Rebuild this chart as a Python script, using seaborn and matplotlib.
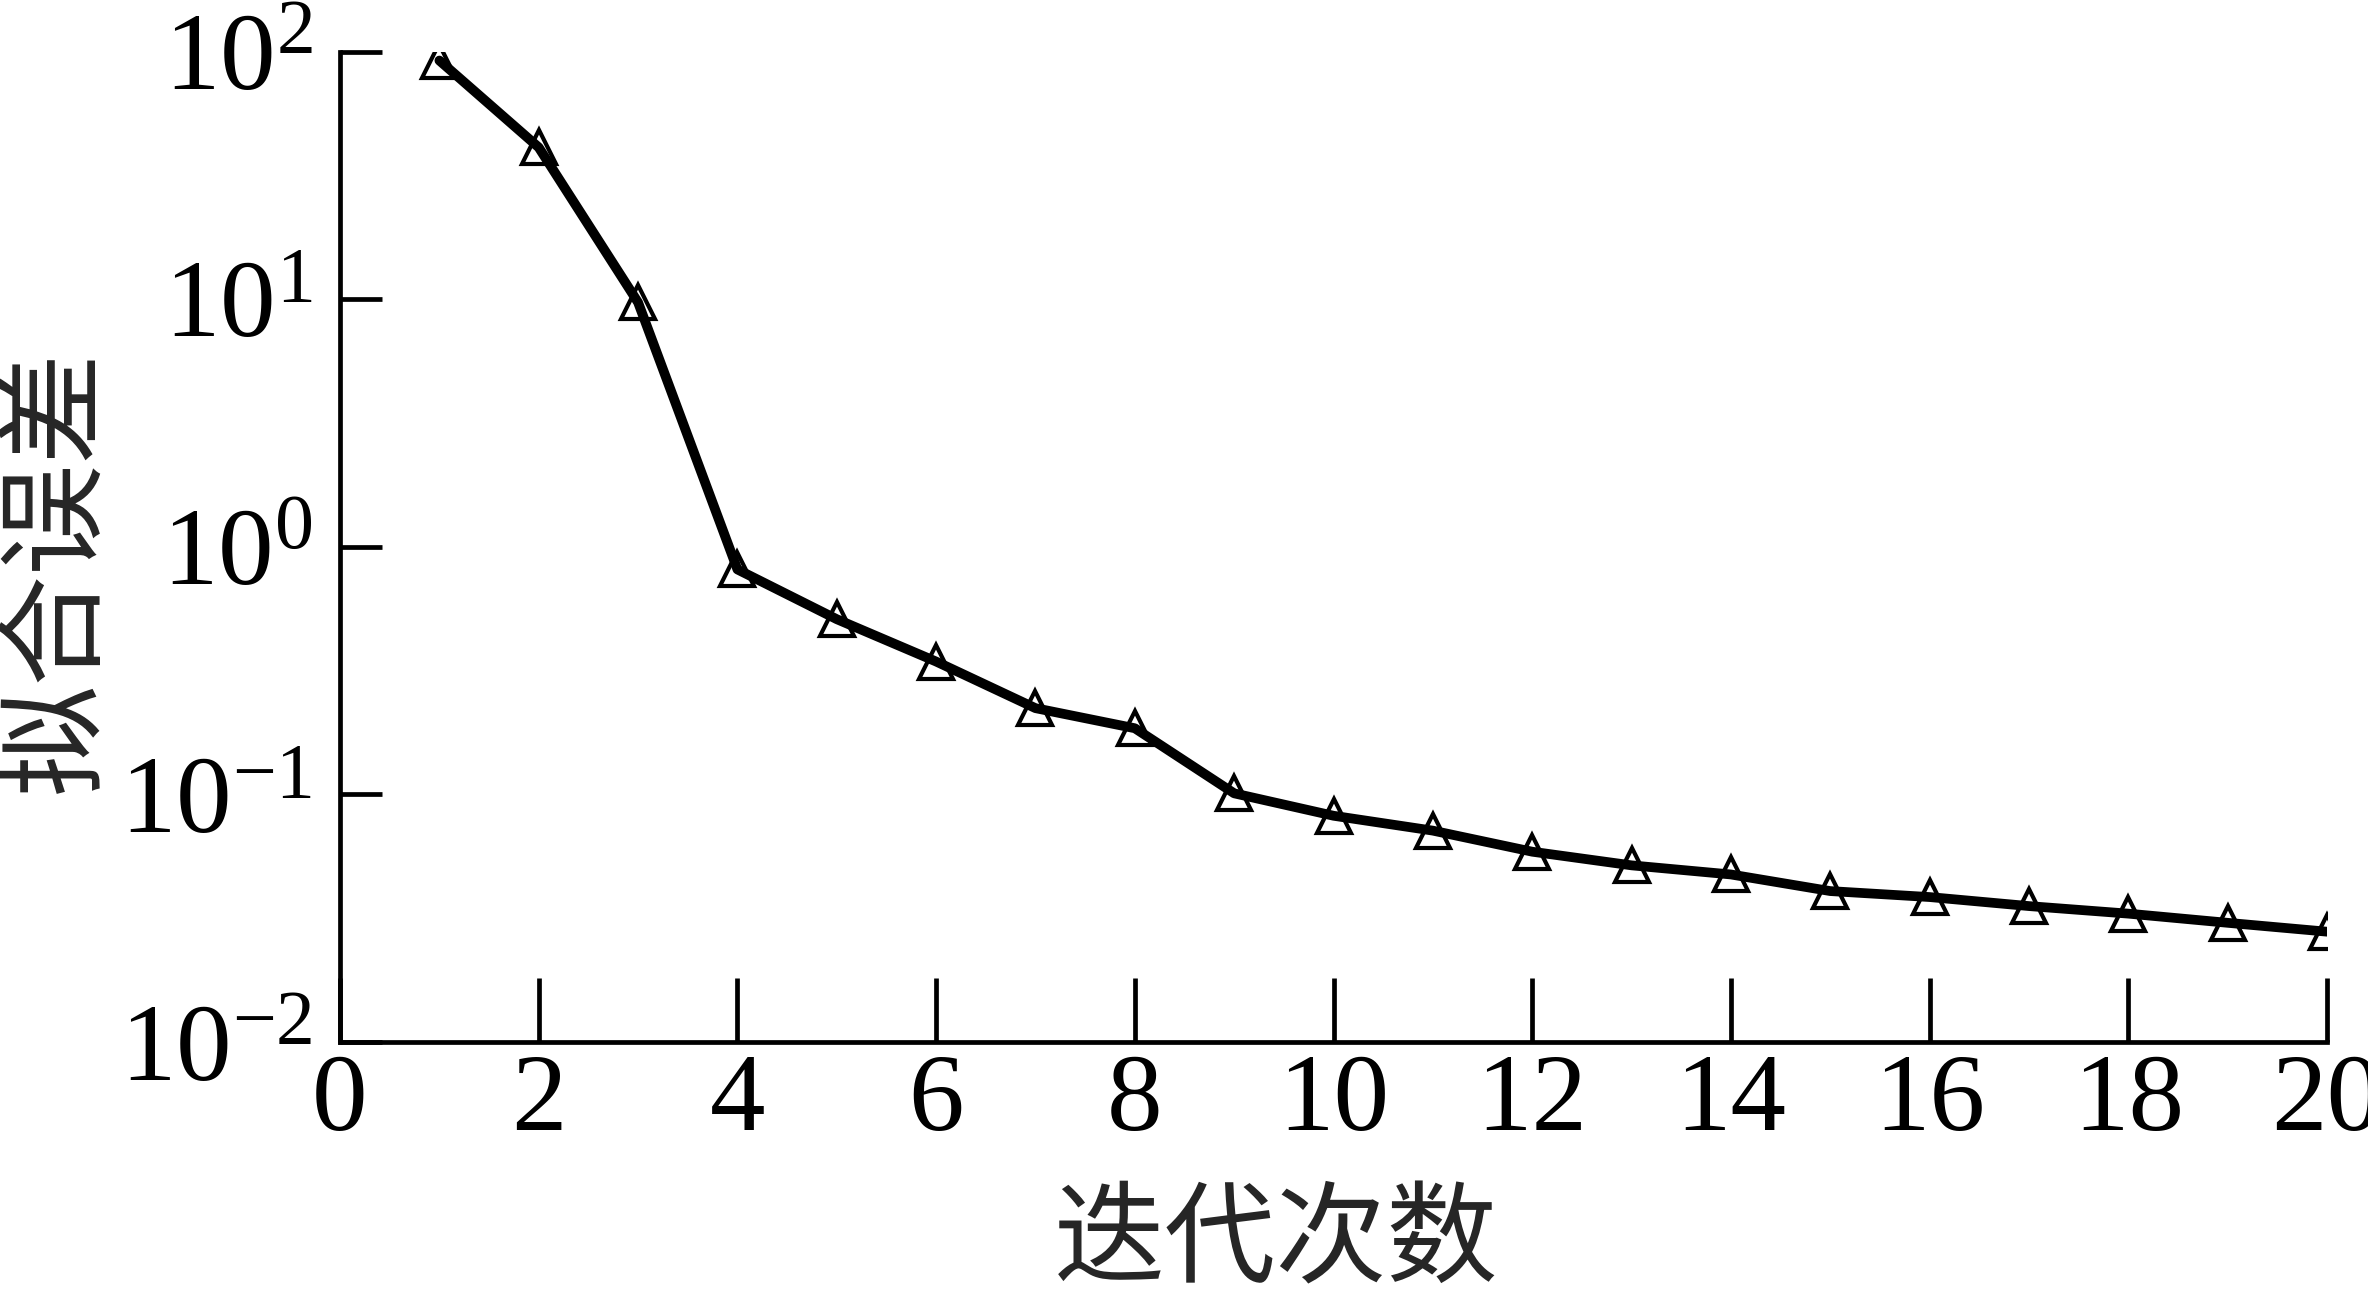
import numpy as np
import pandas as pd
import matplotlib
matplotlib.use("Agg")
import matplotlib.pyplot as plt
import seaborn as sns
from matplotlib.ticker import NullLocator, FixedLocator

# data
iterations = list(range(1, 21))
fit_error = [92.0, 41.0, 9.7, 0.81, 0.51, 0.344, 0.223, 0.185, 0.101, 0.082,
             0.0714, 0.0587, 0.0517, 0.0475, 0.0407, 0.0385, 0.0354, 0.033, 0.0303, 0.0279]
x_ticks = list(range(0, 21, 2))
y_ticks = [1e-2, 1e-1, 1e0, 1e1, 1e2]
x_label = "迭代次数"
y_label = "拟合误差"

sns.set_theme(style="ticks")
plt.rcParams["font.family"] = ["Liberation Serif", "Noto Sans CJK SC", "DejaVu Sans"]
plt.rcParams["mathtext.fontset"] = "stix"
plt.rcParams["axes.unicode_minus"] = True

df = pd.DataFrame({"iter": iterations, "err": fit_error})

fig = plt.figure(figsize=(23.68, 12.89), dpi=100)
ax = fig.add_axes([0.1436, 0.1916, 0.9827 - 0.1436, 0.960 - 0.1916])

sns.lineplot(data=df, x="iter", y="err", ax=ax, color="black", linewidth=7,
             marker="^", markersize=25, markerfacecolor="none",
             markeredgecolor="black", markeredgewidth=3)

ax.set_yscale("log")
ax.set_xlim(0, 20)
ax.set_ylim(1e-2, 1e2)
ax.xaxis.set_major_locator(FixedLocator(x_ticks))
ax.yaxis.set_major_locator(FixedLocator(y_ticks))
ax.yaxis.set_minor_locator(NullLocator())
ax.xaxis.set_minor_locator(NullLocator())

for s in ["top", "right"]:
    ax.spines[s].set_visible(False)
for s in ["left", "bottom"]:
    ax.spines[s].set_linewidth(3.4)
    ax.spines[s].set_color("black")

ax.tick_params(axis="x", direction="in", length=46, width=3.4, labelsize=80, pad=8, colors="black")
ax.tick_params(axis="y", direction="in", length=30, width=3.4, labelsize=80, pad=20, colors="black")

ax.set_xlabel(x_label, fontsize=80, family=["Noto Sans CJK SC", "DejaVu Sans"])
ax.set_ylabel(y_label, fontsize=80, family=["Noto Sans CJK SC", "DejaVu Sans"])
ax.xaxis.set_label_coords(0.471, -0.145)
ax.yaxis.set_label_coords(-0.114, 0.476)

fig.savefig("out.png", dpi=100, facecolor="white")
